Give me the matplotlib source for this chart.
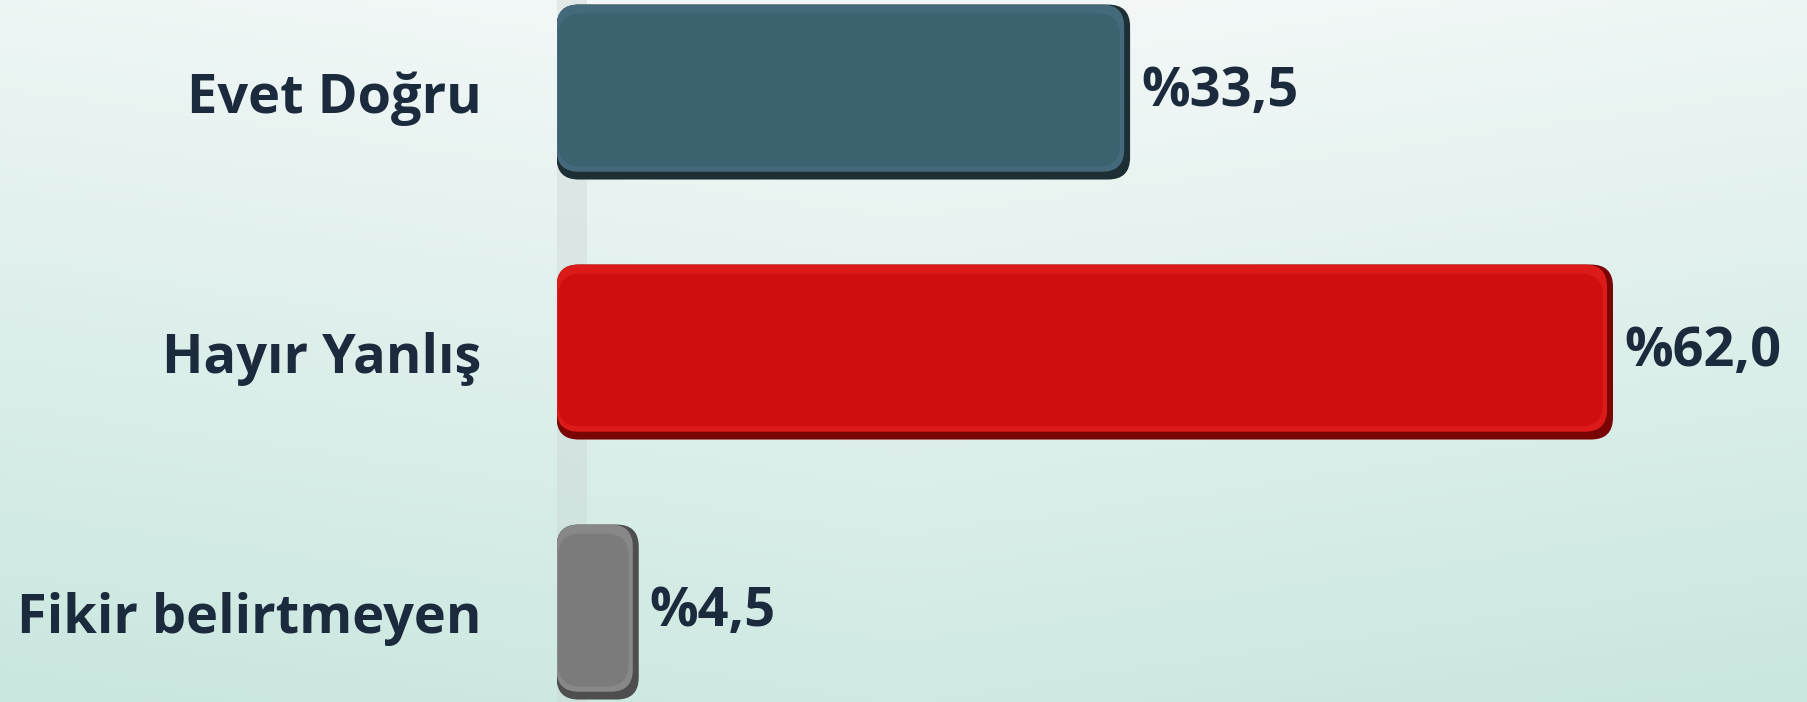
import matplotlib.pyplot as plt
import numpy as np
from matplotlib.patches import FancyBboxPatch

# survey answers and their shares (%)
categories = ["Evet Doğru", "Hayır Yanlış", "Fikir belirtmeyen"]
values = [33.5, 62.0, 4.5]
value_labels = ["%33,5", "%62,0", "%4,5"]
bar_colors = ["#3c616f", "#cf0f0f", "#7b7b7b"]
edge_colors = ["#1d2e35", "#7a0505", "#4e4e4e"]
light_colors = ["#44697a", "#dc1a1a", "#888888"]

plt.rcParams['font.family'] = ['Open Sans', 'DejaVu Sans']

fig = plt.figure(figsize=(18.07, 7.02), dpi=100)

# soft mint background
bg = fig.add_axes([0, 0, 1, 1], zorder=-2)
yy, xx = np.mgrid[0:1:200j, 0:1:400j]
t = np.clip(0.8 * yy + 0.3 * np.abs(xx - 0.5) - 0.05, 0, 1)
top = np.array([0.950, 0.972, 0.968])
bot = np.array([0.77, 0.895, 0.865])
img = top[None, None, :] * (1 - t[..., None]) + bot[None, None, :] * t[..., None]
bg.imshow(img, aspect='auto', extent=[0, 1, 1, 0])
bg.axis('off')

ax = fig.add_axes([0.308, 0, 0.692, 1])
ax.patch.set_alpha(0)

xmax = 73.8
ax.set_xlim(0, xmax)
ax.set_ylim(2.346, -0.354)

# light wall strip behind the bars
ax.axvspan(-0.6, 1.8, color="#c9d6d3", alpha=0.4, zorder=0, lw=0)

h = 0.673
px_x = ax.get_window_extent().width / xmax
px_y = ax.get_window_extent().height / (2.346 + 0.354)
aspect = px_x / px_y
box = "round,pad=0,rounding_size=1.3"

for i, (v, c, ec, lc) in enumerate(zip(values, bar_colors, edge_colors, light_colors)):
    # darker back piece for the 3d look
    ax.add_patch(FancyBboxPatch((0, i - h / 2), v + 0.35, h, boxstyle=box,
                                mutation_aspect=aspect, fc=ec, ec='none', zorder=2))
    # lighter rim
    ax.add_patch(FancyBboxPatch((0, i - h / 2), v, h - 0.03, boxstyle=box,
                                mutation_aspect=aspect, fc=lc, ec='none', zorder=3))
    # front face
    ax.add_patch(FancyBboxPatch((0.1, i - h / 2 + 0.035), v - 0.35, h - 0.085, boxstyle=box,
                                mutation_aspect=aspect, fc=c, ec='none', zorder=4))
    ax.text(v + 1.0, i, value_labels[i], va='center', ha='left',
            fontsize=39, fontweight='bold', color='#1c2a3d', zorder=5)

ax.set_yticks(range(len(categories)))
ax.set_yticklabels(categories, fontsize=39, fontweight='bold', color='#1c2a3d')
ax.tick_params(axis='y', length=0, pad=54)
ax.set_xticks([])
for s in ax.spines.values():
    s.set_visible(False)

fig.savefig("out.png", dpi=100)
